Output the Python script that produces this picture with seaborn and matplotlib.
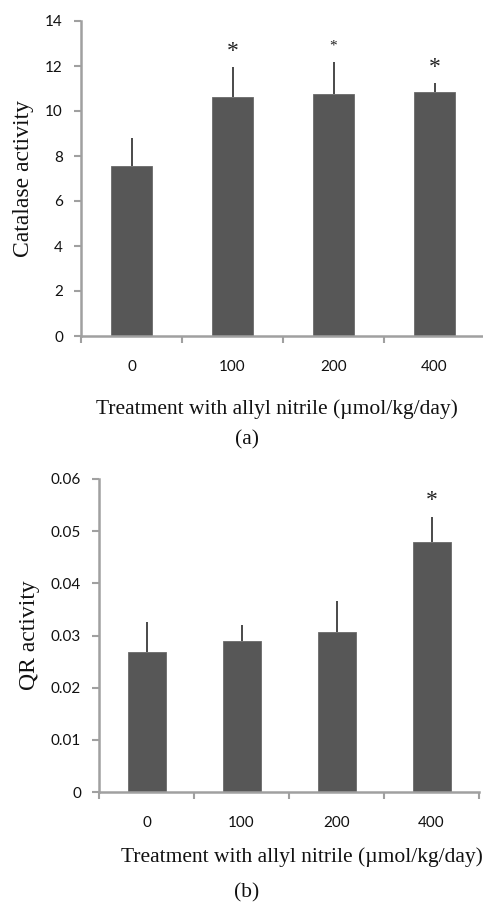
import matplotlib
matplotlib.use("Agg")
import matplotlib.pyplot as plt
import seaborn as sns
import numpy as np
import pandas as pd

# data
doses = ["0", "100", "200", "400"]
catalase_mean = [7.57, 10.64, 10.74, 10.86]
catalase_sd = [1.22, 1.32, 1.44, 0.37]
catalase_star = ["", "*", "*", "*"]
qr_mean = [0.0268, 0.0289, 0.0307, 0.0479]
qr_sd = [0.0058, 0.0031, 0.0059, 0.0049]
qr_star = ["", "", "", "*"]

BAR = "#575757"
AXIS = "#a0a0a0"
TICK_FONT = "Lato"
LABEL_FONT = "Liberation Serif"
XLABEL = "Treatment with allyl nitrile (\u00b5mol/kg/day)"

sns.set_theme(style="white")


def draw_panel(ax, means, sds, stars, ylim, yticks, yfmt, ylabel, star_sizes):
    df = pd.DataFrame({"dose": doses, "value": means})
    sns.barplot(data=df, x="dose", y="value", color=BAR, width=0.4,
                saturation=1, edgecolor="#6a6a6a", linewidth=0.6, ax=ax)
    x = np.arange(len(doses))
    ax.errorbar(x, means, yerr=[np.zeros(len(sds)), sds], fmt="none",
                ecolor="#3a3a3a", elinewidth=1.3, capsize=0)
    for i, s in enumerate(stars):
        if s:
            ax.text(x[i], means[i] + sds[i] + (ylim[1] * 0.05), s,
                    ha="center", va="center", fontsize=star_sizes[i],
                    color="#222222", family=LABEL_FONT)

    ax.set_xlim(-0.5, len(doses) - 0.5)
    ax.set_ylim(*ylim)
    ax.set_yticks(yticks)
    ax.set_yticklabels([yfmt(v) for v in yticks], family=TICK_FONT,
                       fontsize=11, color="#111111")
    # major ticks at category borders, labels on minor ticks at centres
    ax.set_xticks(np.arange(len(doses) + 1) - 0.5)
    ax.set_xticklabels([])
    ax.set_xticks(x, minor=True)
    ax.set_xticklabels(doses, minor=True, family=TICK_FONT, fontsize=11,
                       color="#111111")
    ax.tick_params(axis="x", which="major", direction="out", length=5,
                   width=1.5, color=AXIS, bottom=True)
    ax.tick_params(axis="x", which="minor", length=0, pad=17)
    ax.tick_params(axis="y", direction="out", length=5, width=1.5,
                   color=AXIS, left=True, pad=8)

    for side in ["top", "right"]:
        ax.spines[side].set_visible(False)
    for side in ["left", "bottom"]:
        ax.spines[side].set_color(AXIS)
        ax.spines[side].set_linewidth(1.8)
    ax.set_xlabel("")
    ax.set_ylabel(ylabel, family=LABEL_FONT, fontsize=17, color="#111111",
                  labelpad=8)


fig = plt.figure(figsize=(4.83, 9.09), dpi=100)

ax1 = fig.add_axes([81 / 483, 1 - 336 / 909, 404 / 483, 315 / 909])
draw_panel(ax1, catalase_mean, catalase_sd, catalase_star, (0, 14),
           [0, 2, 4, 6, 8, 10, 12, 14], lambda v: f"{v:d}",
           "Catalase activity", [17, 17, 11, 17])
fig.text(277 / 483, 1 - 409 / 909, XLABEL, ha="center", va="center",
         family=LABEL_FONT, fontsize=15.5, color="#111111")
fig.text(247 / 483, 1 - 440 / 909, "(a)", ha="center", va="center",
         family=LABEL_FONT, fontsize=15.5, color="#111111")

ax2 = fig.add_axes([99 / 483, 1 - 792 / 909, 380 / 483, 313 / 909])
draw_panel(ax2, qr_mean, qr_sd, qr_star, (0, 0.06),
           [0, 0.01, 0.02, 0.03, 0.04, 0.05, 0.06],
           lambda v: "0" if v == 0 else f"{v:.2f}",
           "QR activity", [17, 17, 17, 17])
fig.text(302 / 483, 1 - 857 / 909, XLABEL, ha="center", va="center",
         family=LABEL_FONT, fontsize=15.5, color="#111111")
fig.text(247 / 483, 1 - 893 / 909, "(b)", ha="center", va="center",
         family=LABEL_FONT, fontsize=15.5, color="#111111")

fig.savefig("out.png", dpi=100, facecolor="white")
